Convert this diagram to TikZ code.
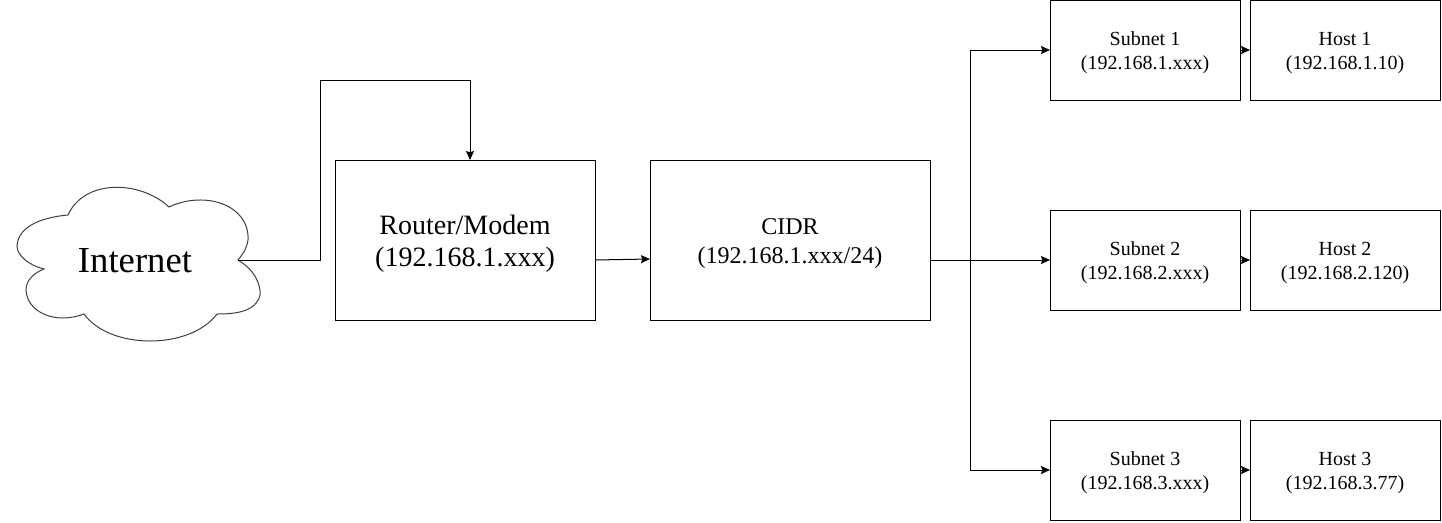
\documentclass[tikz,border=0pt]{standalone}
\usepackage{fontspec}
\setmainfont{Liberation Serif}
\usetikzlibrary{arrows.meta}
\tikzset{
	basebox/.style={draw=black,line width=0.75pt,align=center,inner sep=0pt,outer sep=0pt},
	bigbox/.style={basebox,minimum height=120pt,font=\fontsize{21}{24}\selectfont,execute at begin node=\rule{0pt}{44.2pt}},
	midbox/.style={basebox,minimum height=120pt,font=\fontsize{18}{22}\selectfont,execute at begin node=\rule{0pt}{39.7pt}},
	smallbox/.style={basebox,minimum width=142.5pt,minimum height=75pt,font=\fontsize{15}{18}\selectfont,execute at begin node=\rule{0pt}{32.5pt}},
	link/.style={line width=0.75pt,-{Stealth[length=6.75pt,width=6pt,inset=1pt]}}
}
\begin{document}
\begin{tikzpicture}[x=0.75pt,y=-0.75pt]
\useasboundingbox (0,0) rectangle (1442,522);
\coordinate (T) at (238,260);
\coordinate (U) at (595,260);
\coordinate (V) at (650,259);
\coordinate (J) at (970,260);
\draw [line width=0.75pt,black!75] (68,215) .. controls (84,179) and (140,180) .. (169,207)
	.. controls (205,190) and (250,205) .. (248,240)
	.. controls (247,248) and (243,254) .. (238,260)
	.. controls (255,270) and (261,285) .. (260,295)
	.. controls (256,312) and (235,314) .. (217,314)
	.. controls (190,350) and (110,350) .. (84,314)
	.. controls (55,325) and (27,312) .. (26,290)
	.. controls (26,280) and (34,273) .. (44,269)
	.. controls (28,265) and (17,255) .. (17,246)
	.. controls (18,225) and (45,217) .. (68,215);
\node (internet) at (135,261) [font=\fontsize{27.5}{32}\selectfont] {Internet};
\node (router) at (465,240) [bigbox,minimum width=195pt] {Router/Modem\\(192.168.1.xxx)};
\node (cidr) at (790,240) [midbox,minimum width=210pt] {CIDR\\(192.168.1.xxx/24)};
\node (subnet1) at (1145,50) [smallbox] {Subnet 1\\(192.168.1.xxx)};
\node (subnet2) at (1145,260) [smallbox] {Subnet 2\\(192.168.2.xxx)};
\node (subnet3) at (1145,470) [smallbox] {Subnet 3\\(192.168.3.xxx)};
\node (host1) at (1345,50) [smallbox] {Host 1\\(192.168.1.10)};
\node (host2) at (1345,260) [smallbox] {Host 2\\(192.168.2.120)};
\node (host3) at (1345,470) [smallbox] {Host 3\\(192.168.3.77)};
\draw [link] (T) -- (320,260) -- (320,80) -- (470,80) -- (470,160);
\draw [link] (U) -- (V);
\draw [line width=0.75pt] (930,260) -- (J);
\foreach \p in {1,2,3}
	\draw [link] (J |- subnet\p.west) -- (subnet\p.west);
\draw [line width=0.75pt] (J |- subnet1.west) -- (J |- subnet3.west);
\foreach \p in {1,2,3}
	\draw [link] (subnet\p) -- (host\p);
\end{tikzpicture}
\end{document}
